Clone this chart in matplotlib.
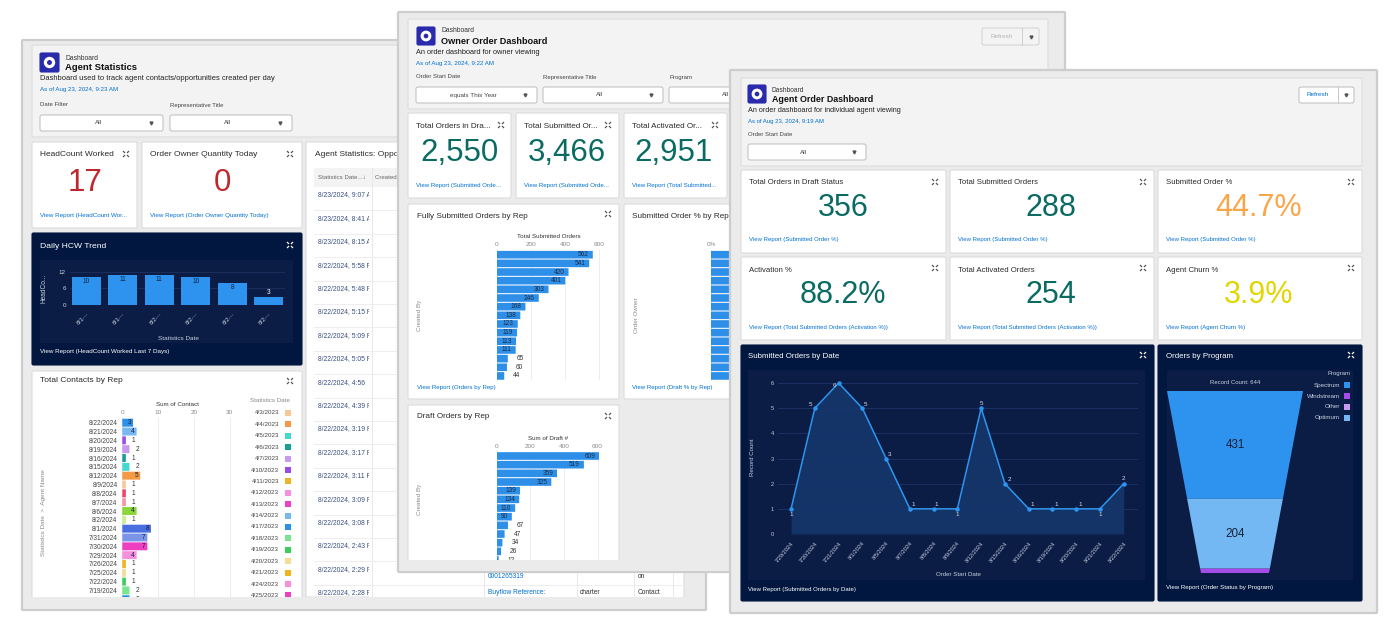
import matplotlib
matplotlib.use("Agg")
import matplotlib.pyplot as plt
import numpy as np
from matplotlib.patches import FancyBboxPatch, Rectangle, Circle

plt.rcParams["font.family"] = ["Liberation Sans", "DejaVu Sans"]

# Daily HCW Trend
hcw_dates = ["8/1⋯", "8/1⋯", "8/2⋯", "8/2⋯", "8/2⋯", "8/2⋯"]
hcw_values = [10, 11, 11, 10, 8, 3]

# Total Contacts by Rep
contact_dates = ["8/22/2024", "8/21/2024", "8/20/2024", "8/19/2024", "8/16/2024", "8/15/2024", "8/12/2024",
                 "8/9/2024", "8/8/2024", "8/7/2024", "8/6/2024", "8/2/2024", "8/1/2024", "7/31/2024",
                 "7/30/2024", "7/29/2024", "7/26/2024", "7/25/2024", "7/22/2024", "7/19/2024", "7/18/2024"]
contact_values = [3, 4, 1, 2, 1, 2, 5, 1, 1, 1, 4, 1, 8, 7, 7, 4, 1, 1, 1, 2, 2]
contact_colors = ["#2e8fe8", "#7ab8f2", "#9a4ce8", "#c69af0", "#1a9e96", "#45d8d0", "#f49a45", "#fbc893",
                  "#f0436a", "#f892a6", "#8cd63c", "#c8f08c", "#4a6ee0", "#7a94e8", "#ee3fc0", "#f690de",
                  "#eeb520", "#f8dc96", "#3bcf5a", "#78e68e", "#1a8fe8"]
legend_dates = ["4/3/2023", "4/4/2023", "4/5/2023", "4/6/2023", "4/7/2023", "4/10/2023", "4/11/2023",
                "4/12/2023", "4/13/2023", "4/14/2023", "4/17/2023", "4/18/2023", "4/19/2023", "4/20/2023",
                "4/21/2023", "4/24/2023", "4/25/2023"]
legend_colors = ["#fac894", "#f79a45", "#45d8d0", "#1a9e96", "#c69af0", "#9a4ce8", "#eeb520", "#f690de",
                 "#ee3fc0", "#7ab8f2", "#2e8fe8", "#78e68e", "#3bcf5a", "#f8dc96", "#eeb520", "#f690de",
                 "#ee3fc0"]

# Agent Statistics table
table_times = ["8/23/2024, 9:07 AM", "8/23/2024, 8:41 AM", "8/23/2024, 8:15 AM", "8/22/2024, 5:58 PM",
               "8/22/2024, 5:48 PM", "8/22/2024, 5:15 PM", "8/22/2024, 5:09 PM", "8/22/2024, 5:05 PM",
               "8/22/2024, 4:56", "8/22/2024, 4:39 PM", "8/22/2024, 3:19 PM", "8/22/2024, 3:17 PM",
               "8/22/2024, 3:11 PM", "8/22/2024, 3:09 PM", "8/22/2024, 3:08 PM", "8/22/2024, 2:43 PM",
               "8/22/2024, 2:29 PM", "8/22/2024, 2:28 PM"]

# Owner dashboard bars
submitted_by_rep = [562, 541, 420, 401, 303, 246, 168, 138, 123, 119, 113, 111, 65, 60, 44]
submitted_pct_by_rep = [97, 96, 95, 94, 92, 90, 88, 86, 85, 84, 82, 80, 78, 75, 72]  # hidden behind the front window
draft_by_rep = [609, 519, 359, 325, 139, 134, 110, 90, 67, 47, 34, 26, 12]

# Agent Order Dashboard
order_dates = ["7/29/2024", "7/30/2024", "7/31/2024", "8/1/2024", "8/5/2024", "8/7/2024", "8/8/2024", "8/9/2024",
               "8/12/2024", "8/15/2024", "8/16/2024", "8/19/2024", "8/20/2024", "8/21/2024", "8/22/2024"]
order_counts = [1, 5, 6, 5, 3, 1, 1, 1, 5, 2, 1, 1, 1, 1, 2]
funnel_labels = ["431", "204", ""]
funnel_values = [431, 204, 9]
funnel_colors = ["#2e93ee", "#74b8f3", "#a64ce8"]
program_names = ["Spectrum", "Windstream", "Other", "Optimum"]
program_colors = ["#2e93ee", "#a64ce8", "#c69af0", "#74b8f3"]

W, H = 1392, 629
NAVY = "#02173f"
PANEL = "#0b1c45"
BLUE = "#0070d2"
TEAL = "#0b6b63"
GREY = "#6f6f6f"

fig = plt.figure(figsize=(W / 100, H / 100), dpi=100, facecolor="white")


def layer(z):
    ax = fig.add_axes([0, 0, 1, 1], zorder=z)
    ax.set_xlim(0, W)
    ax.set_ylim(H, 0)
    ax.axis("off")
    ax.patch.set_visible(False)
    return ax


def chart_axes(x0, y0, x1, y1, z):
    ax = fig.add_axes([x0 / W, 1 - y1 / H, (x1 - x0) / W, (y1 - y0) / H], zorder=z)
    ax.patch.set_visible(False)
    for s in ax.spines.values():
        s.set_visible(False)
    return ax


def box(ax, x0, y0, x1, y1, fc="white", ec="#dcdcdc", r=1.5, lw=0.8, z=1):
    ax.add_patch(FancyBboxPatch((x0, y0), x1 - x0, y1 - y0, boxstyle=f"round,pad=0,rounding_size={r}",
                                fc=fc, ec=ec, lw=lw, zorder=z))


def txt(ax, x, y, s, size=4.4, color="#333333", ha="left", weight="normal", rot=0, z=5):
    ax.text(x, y, s, fontsize=size, color=color, ha=ha, va="center", fontweight=weight, rotation=rot, zorder=z)


def expand(ax, x, y, color="#555555"):
    for dx in (-1, 1):
        for dy in (-1, 1):
            ax.plot([x + dx * 1, x + dx * 3], [y + dy * 1, y + dy * 3], color=color, lw=0.9, zorder=5,
                    solid_capstyle="butt")


def icon(ax, x0, y0, size=18):
    box(ax, x0, y0, x0 + size, y0 + size, fc="#2a2aad", ec="#2a2aad", r=1.5, z=3)
    ax.add_patch(Circle((x0 + size / 2, y0 + size / 2), size * 0.3, fc="white", ec="none", zorder=4))
    ax.add_patch(Circle((x0 + size / 2, y0 + size / 2), size * 0.13, fc="#2a2aad", ec="none", zorder=5))


def dropdown(ax, x0, x1, y0, y1, label, label_x, caret_x):
    box(ax, x0, y0, x1, y1, fc="white", ec="#bcbcbc", r=2, lw=0.7, z=3)
    txt(ax, label_x, (y0 + y1) / 2, label, 4.6, "#444444", ha="center")
    ax.plot([caret_x], [(y0 + y1) / 2], marker="v", ms=2.1, color="#555555", zorder=5)


def metric_card(ax, x0, y0, x1, y1, title, value, color, link, title_y, num_x, num_y, link_y, icon_x, icon_y,
                title_size=5.9, link_size=4.45, num_size=22.5):
    box(ax, x0, y0, x1, y1)
    txt(ax, x0 + 8, title_y, title, title_size, "#2b2b2b")
    txt(ax, num_x, num_y, value, num_size, color, ha="center")
    txt(ax, x0 + 8, link_y, link, link_size, BLUE)
    expand(ax, icon_x, icon_y)


def rep_bars(x0, x1, y0, y1, first_y, pitch, unit, values, ticks, ticklabels, title, z, threshold=90, show=True):
    # unit is pixels per data unit, rows are spaced by pitch pixels
    ax = chart_axes(x0, y0, x1, y1, z)
    ax.set_xlim(0, (x1 - x0) / unit)
    ax.set_ylim((y1 - first_y) / pitch, (y0 - first_y) / pitch)
    rows = np.arange(len(values))
    ax.barh(rows, values, height=0.88, color="#2e8fe8", zorder=2, snap=False)
    ax.xaxis.tick_top()
    ax.set_xticks(ticks)
    ax.set_xticklabels(ticklabels)
    ax.tick_params(axis="x", length=0, pad=2, labelsize=4.6, labelcolor="#8a8a8a")
    ax.set_yticks([])
    ax.grid(axis="x", color="#e9eef4", lw=0.7, zorder=1)
    ax.set_axisbelow(True)
    if show:
        for r, v in zip(rows, values):
            if v >= threshold:
                ax.text(v - 4 / unit, r, str(v), fontsize=4.7, color="#1a2a44", ha="right", va="center", zorder=3)
            else:
                ax.text(v + 9 / unit, r, str(v), fontsize=4.7, color="#333333", ha="left", va="center", zorder=3)
    if title:
        ax.xaxis.set_label_position("top")
        ax.set_xlabel(title, fontsize=4.5, color="#333333", labelpad=3)
    return ax


# ---------- back window: Agent Statistics ----------
c1 = layer(1)
box(c1, 22, 40, 706, 610, fc="#ebebeb", ec="#cdcdcd", r=1, lw=1.6)
box(c1, 32, 45, 705, 137, fc="#f3f3f3", ec="#dddddd")
icon(c1, 40, 53, 19)
txt(c1, 65, 58, "Dashboard", 4.9)
txt(c1, 65, 68, "Agent Statistics", 6.8, "#111111", weight="bold")
txt(c1, 40, 79, "Dashboard used to track agent contacts/opportunities created per day", 5.4, "#222222")
txt(c1, 40, 90, "As of Aug 23, 2024, 9:23 AM", 4.45, BLUE)
txt(c1, 40, 105, "Date Filter", 4.3, "#444444")
txt(c1, 170, 105, "Representative Title", 4.3, "#444444")
dropdown(c1, 40, 163, 115, 131, "All", 98, 151)
dropdown(c1, 170, 292, 115, 131, "All", 227, 280)

metric_card(c1, 32, 142, 137, 228, "HeadCount Worked", "17", "#c0272d", "View Report (HeadCount Wor...", 155, 85, 183,
            215, 126, 154, title_size=6.0, link_size=4.5)
metric_card(c1, 142, 142, 302, 228, "Order Owner Quantity Today", "0", "#c0272d", "View Report (Order Owner Quantity Today)",
            155, 222, 183, 215, 290, 154, title_size=6.0, link_size=4.5)

# table card
box(c1, 306, 142, 684, 597)
txt(c1, 315, 155, "Agent Statistics: Opportunities", 6.0, "#2b2b2b")
c1.add_patch(Rectangle((314, 168), 369, 19, fc="#f3f3f3", ec="none", zorder=2))
txt(c1, 318, 177.5, "Statistics Date...↓", 4.4, "#666666")
for i, t in enumerate(table_times):
    y = 187 + i * 23.4
    txt(c1, 318, y + 8, t, 4.9, "#3a5080", z=3)
    c1.plot([314, 683], [y + 23.4, y + 23.4], color="#eeeeee", lw=0.7, zorder=4)
c1.add_patch(Rectangle((369, 168), 314, 429, fc="white", ec="none", zorder=3.5))
c1.add_patch(Rectangle((369, 168), 314, 19, fc="#f3f3f3", ec="none", zorder=3.6))
txt(c1, 375, 177.5, "Created By", 4.4, "#666666", z=3.7)
for x in (372, 484, 577, 634, 673):
    c1.plot([x, x], [168, 597], color="#e8e8e8", lw=0.7, zorder=4)
txt(c1, 488, 577, "0001265319", 4.8, BLUE)
txt(c1, 488, 592, "Buyflow Reference:", 4.8, BLUE)
txt(c1, 580, 592, "charter", 4.8)
txt(c1, 638, 577, "on", 4.8)
txt(c1, 638, 592, "Contact", 4.8)

# Daily HCW card
box(c1, 32, 233, 302, 365, fc=NAVY, ec=NAVY)
c1.add_patch(Rectangle((40, 260), 253, 83, fc=PANEL, ec="none", zorder=2))
txt(c1, 40, 247, "Daily HCW Trend", 6.1, "#ffffff")
txt(c1, 40, 352, "View Report (HeadCount Worked Last 7 Days)", 4.5, "#ffffff")
expand(c1, 290, 245, "#ffffff")
txt(c1, 44, 288, "HeadCo...", 4.7, "#c8d0e0", ha="center", rot=90)
txt(c1, 178, 338, "Statistics Date", 4.6, "#c8d0e0", ha="center")

ax = chart_axes(70, 270, 285, 305, 2)
ax.bar(range(6), hcw_values, width=0.8, color="#2e93ee", zorder=3)
ax.set_xlim(-0.45, 5.45)
ax.set_ylim(0, 12.7)
ax.set_yticks([0, 6, 12])
ax.set_xticks(range(6))
ax.set_xticklabels(hcw_dates, rotation=45, ha="right", rotation_mode="anchor")
ax.tick_params(length=0, labelsize=4.5, labelcolor="#c8d0e0", pad=3)
ax.tick_params(axis="x", pad=5)
ax.grid(axis="y", color="#1c2f5c", lw=0.7, zorder=1)
ax.set_axisbelow(True)
for i, v in enumerate(hcw_values):
    if v > 3:
        ax.text(i, v - 1.6, str(v), fontsize=4.8, color="#10213f", ha="center", va="center", zorder=4)
    else:
        ax.text(i, v + 1.5, str(v), fontsize=4.8, color="#ffffff", ha="center", va="center", zorder=4)

# Total Contacts card
box(c1, 32, 371, 302, 600)
txt(c1, 40, 381, "Total Contacts by Rep", 6.0, "#2b2b2b")
expand(c1, 290, 381)
txt(c1, 44, 513, "Statistics Date  >  Agent Name", 4.6, "#8a8a8a", ha="center", rot=90)
txt(c1, 290, 400, "Statistics Date", 4.5, "#8a8a8a", ha="right")

ax = chart_axes(122.3, 417, 232, 600, 2)
ax.set_xlim(0, (232 - 122.3) / 3.58)
ax.set_ylim((600 - 422.7) / 8.83, (417 - 422.7) / 8.83)
rows = np.arange(len(contact_values))
ax.barh(rows, contact_values, height=0.9, color=contact_colors, zorder=2, snap=False)
ax.xaxis.tick_top()
ax.set_xticks([0, 10, 20, 30])
ax.set_yticks(rows)
ax.set_yticklabels(contact_dates)
ax.tick_params(axis="x", length=0, pad=1.5, labelsize=4.6, labelcolor="#8a8a8a")
ax.tick_params(axis="y", length=0, pad=3.5, labelsize=4.7, labelcolor="#444444")
ax.grid(axis="x", color="#e9eef4", lw=0.7, zorder=1)
ax.set_axisbelow(True)
ax.xaxis.set_label_position("top")
ax.set_xlabel("Sum of Contact", fontsize=4.5, color="#333333", labelpad=3)
for r, v in zip(rows, contact_values):
    if v >= 3:
        ax.text(v - 0.5, r, str(v), fontsize=4.7, color="#10213f", ha="right", va="center", zorder=3)
    else:
        ax.text(v + 1.7, r, str(v), fontsize=4.7, color="#333333", ha="left", va="center", zorder=3)

mid = layer(2.5)
for i, (d, col) in enumerate(zip(legend_dates, legend_colors)):
    y = 413 + i * 11.4
    txt(mid, 279, y, d, 4.5, "#444444", ha="right")
    mid.add_patch(Rectangle((285, y - 3), 6, 6, fc=col, ec="none", zorder=4))

# the window's bottom band hides whatever runs off the card
band1 = layer(3)
band1.add_patch(Rectangle((24, 597), 680, 12, fc="#ebebeb", ec="none", zorder=1))

# ---------- middle window: Owner Order Dashboard ----------
c2 = layer(4)
box(c2, 398, 12, 1065, 572, fc="#ebebeb", ec="#cdcdcd", r=1, lw=1.6)
box(c2, 408, 19, 1048, 109, fc="#f3f3f3", ec="#dddddd")
icon(c2, 417, 27, 18)
txt(c2, 441, 31, "Dashboard", 4.9)
txt(c2, 441, 41, "Owner Order Dashboard", 6.6, "#111111", weight="bold")
txt(c2, 416, 52, "An order dashboard for owner viewing", 5.3, "#222222")
txt(c2, 416, 63, "As of Aug 23, 2024, 9:22 AM", 4.45, BLUE)
txt(c2, 416, 77, "Order Start Date", 4.3, "#444444")
txt(c2, 543, 77, "Representative Title", 4.3, "#444444")
txt(c2, 669, 77, "Program", 4.3, "#444444")
dropdown(c2, 416, 537, 87, 103, "equals This Year", 473, 525)
dropdown(c2, 543, 663, 87, 103, "All", 599, 651)
dropdown(c2, 669, 790, 87, 103, "All", 725, 778)
box(c2, 982, 28, 1039, 45, fc="#f3f3f3", ec="#d0d0d0", r=2, lw=0.7, z=3)
c2.plot([1022, 1022], [28, 45], color="#d0d0d0", lw=0.7, zorder=4)
txt(c2, 1002, 36.5, "Refresh", 4.6, "#b5b5b5", ha="center")
c2.plot([1031], [36.5], marker="v", ms=2.1, color="#555555", zorder=5)

metric_card(c2, 408, 113, 511, 198, "Total Orders in Dra...", "2,550", TEAL, "View Report (Submitted Orde...", 127, 459, 153,
            185, 501, 125)
metric_card(c2, 516, 113, 619, 198, "Total Submitted Or...", "3,466", TEAL, "View Report (Submitted Orde...", 127, 567, 153,
            185, 608, 125)
metric_card(c2, 624, 113, 727, 198, "Total Activated Or...", "2,951", TEAL, "View Report (Total Submitted...", 127, 673, 153,
            185, 715, 125)

box(c2, 408, 204, 619, 399)
txt(c2, 417, 216, "Fully Submitted Orders by Rep", 5.9, "#2b2b2b")
expand(c2, 608, 214)
txt(c2, 420, 315, "Created By", 4.5, "#8a8a8a", ha="center", rot=90)
txt(c2, 417, 387, "View Report (Orders by Rep)", 4.45, BLUE)

box(c2, 624, 204, 1050, 399)
txt(c2, 632, 216, "Submitted Order % by Rep", 5.9, "#2b2b2b")
txt(c2, 636, 315, "Order Owner", 4.5, "#8a8a8a", ha="center", rot=90)
txt(c2, 632, 387, "View Report (Draft % by Rep)", 4.45, BLUE)

box(c2, 408, 405, 619, 566)
txt(c2, 417, 417, "Draft Orders by Rep", 5.9, "#2b2b2b")
expand(c2, 608, 416)
txt(c2, 420, 499, "Created By", 4.5, "#8a8a8a", ha="center", rot=90)

rep_bars(496.7, 600, 250, 380, 254.7, 8.66, 0.171, submitted_by_rep, [0, 200, 400, 600], ["0", "200", "400", "600"],
         "Total Submitted Orders", 5)
rep_bars(711, 870, 250, 380, 254.7, 8.66, 1.5, submitted_pct_by_rep, [0, 50, 100], ["0%", "50%", "100%"], "", 5, show=False)
rep_bars(496.7, 600, 451.5, 566, 456, 8.67, 0.168, draft_by_rep, [0, 200, 400, 600], ["0", "200", "400", "600"],
         "Sum of Draft #", 5)

band2 = layer(6)
band2.add_patch(Rectangle((400, 560), 330, 11, fc="#ebebeb", ec="none", zorder=1))

# ---------- front window: Agent Order Dashboard ----------
c3 = layer(7)
box(c3, 730, 70, 1377, 613, fc="#ebebeb", ec="#cdcdcd", r=1, lw=1.6)
box(c3, 741, 78, 1362, 166, fc="#f3f3f3", ec="#dddddd")
icon(c3, 748, 85, 18)
txt(c3, 772, 90, "Dashboard", 4.8)
txt(c3, 772, 99, "Agent Order Dashboard", 6.4, "#111111", weight="bold")
txt(c3, 748, 110, "An order dashboard for individual agent viewing", 5.2, "#222222")
txt(c3, 748, 121, "As of Aug 23, 2024, 9:19 AM", 4.3, BLUE)
txt(c3, 748, 134, "Order Start Date", 4.3, "#444444")
dropdown(c3, 748, 866, 144, 160, "All", 803, 854)
box(c3, 1299, 87, 1354, 103, fc="white", ec="#bcbcbc", r=2, lw=0.7, z=3)
c3.plot([1338, 1338], [87, 103], color="#c9c9c9", lw=0.7, zorder=4)
txt(c3, 1318, 95, "Refresh", 4.6, BLUE, ha="center")
c3.plot([1346], [95], marker="v", ms=2.1, color="#555555", zorder=5)

col_x = [(741, 946, 843, 935), (950, 1154, 1051, 1143), (1158, 1362, 1259, 1351)]
row1 = [("Total Orders in Draft Status", "356", TEAL, "View Report (Submitted Order %)"),
        ("Total Submitted Orders", "288", TEAL, "View Report (Submitted Order %)"),
        ("Submitted Order %", "44.7%", "#f9a64a", "View Report (Submitted Order %)")]
row2 = [("Activation %", "88.2%", TEAL, "View Report (Total Submitted Orders (Activation %))"),
        ("Total Activated Orders", "254", TEAL, "View Report (Total Submitted Orders (Activation %))"),
        ("Agent Churn %", "3.9%", "#e2d500", "View Report (Agent Churn %)")]
for (x0, x1, cx, ix), r1, r2 in zip(col_x, row1, row2):
    metric_card(c3, x0, 170, x1, 253, r1[0], r1[1], r1[2], r1[3], 183, cx, 208, 240, ix, 182, title_size=5.6,
                link_size=4.3, num_size=22)
    metric_card(c3, x0, 257, x1, 340, r2[0], r2[1], r2[2], r2[3], 270, cx, 295, 327, ix, 268, title_size=5.6,
                link_size=4.3, num_size=22)

# Submitted Orders by Date
box(c3, 741, 345, 1154, 601, fc=NAVY, ec=NAVY)
c3.add_patch(Rectangle((748, 370), 397, 210, fc=PANEL, ec="none", zorder=2))
txt(c3, 748, 357, "Submitted Orders by Date", 5.7, "#ffffff")
txt(c3, 748, 589, "View Report (Submitted Orders by Date)", 4.3, "#ffffff")
expand(c3, 1143, 355, "#ffffff")
txt(c3, 752, 457, "Record Count", 4.4, "#c8d0e0", ha="center", rot=90)
txt(c3, 958, 575, "Order Start Date", 4.4, "#c8d0e0", ha="center")

ax = chart_axes(778, 378, 1138, 534, 8)
xs = np.arange(len(order_counts))
ax.fill_between(xs, order_counts, 0, color="#16386d", alpha=0.85, lw=0, zorder=2)
ax.plot(xs, order_counts, color="#2e96f0", lw=1.1, marker="o", ms=2.2, zorder=3)
ax.set_xlim(-0.55, 14.6)
ax.set_ylim(0, 6.2)
ax.set_yticks(range(7))
ax.set_xticks(xs)
ax.set_xticklabels(order_dates, rotation=50, ha="right", rotation_mode="anchor")
ax.tick_params(length=0, labelsize=4.1, labelcolor="#c8d0e0")
ax.tick_params(axis="y", pad=3)
ax.tick_params(axis="x", pad=5)
ax.grid(axis="y", color="#1c3060", lw=0.8, zorder=1)
ax.set_axisbelow(True)
label_offsets = [(0, -6), (-4, 4), (-4, -2), (3, 4), (3, 4), (3, 4), (3, 4), (0, -6), (0, 5), (4, 4), (4, 4), (4, 4),
                 (4, 4), (0, -6), (0, 5)]
for x, v, off in zip(xs, order_counts, label_offsets):
    ax.annotate(str(v), (x, v), xytext=(off[0] * 0.72, off[1] * 0.72), textcoords="offset points", fontsize=4.5,
                color="#d5dbe8", ha="center", va="center", zorder=4)

# Orders by Program
box(c3, 1158, 345, 1362, 601, fc=NAVY, ec=NAVY)
c3.add_patch(Rectangle((1167, 370), 186, 210, fc=PANEL, ec="none", zorder=2))
txt(c3, 1166, 357, "Orders by Program", 5.7, "#ffffff")
txt(c3, 1166, 588, "View Report (Order Status by Program)", 4.4, "#ffffff")
expand(c3, 1351, 355, "#ffffff")
txt(c3, 1235, 382, "Record Count: 644", 4.3, "#c8d0e0", ha="center")
txt(c3, 1351, 373, "Program", 4.3, "#c8d0e0", ha="right")
for i, (name, col) in enumerate(zip(program_names, program_colors)):
    y = 385 + i * 11
    txt(c3, 1340, y, name, 4.5, "#c8d0e0", ha="right")
    c3.add_patch(Rectangle((1344, y - 3), 6, 6, fc=col, ec="none", zorder=4))

# funnel segment heights grow slower than the values, small stages get squeezed
vals = np.array(funnel_values, dtype=float)
heights = np.sqrt(vals) * vals / (vals + 25)
edges = np.concatenate([[0], np.cumsum(heights)])
ax = chart_axes(1167, 391, 1303, 573, 8)
ax.set_xlim(-1, 1)
ax.set_ylim(edges[-1], 0)
ax.axis("off")


def half_width(y):
    return 1 - 0.5 * y / edges[-1]


for i, (col, lab) in enumerate(zip(funnel_colors, funnel_labels)):
    top, bot = edges[i], edges[i + 1]
    ax.fill([-half_width(top), half_width(top), half_width(bot), -half_width(bot)], [top, top, bot, bot], color=col, lw=0)
    if lab:
        ax.text(0, (top + bot) / 2, lab, fontsize=8.4, color="#16213a", ha="center", va="center")

fig.savefig("out.png", dpi=100, facecolor="white")
